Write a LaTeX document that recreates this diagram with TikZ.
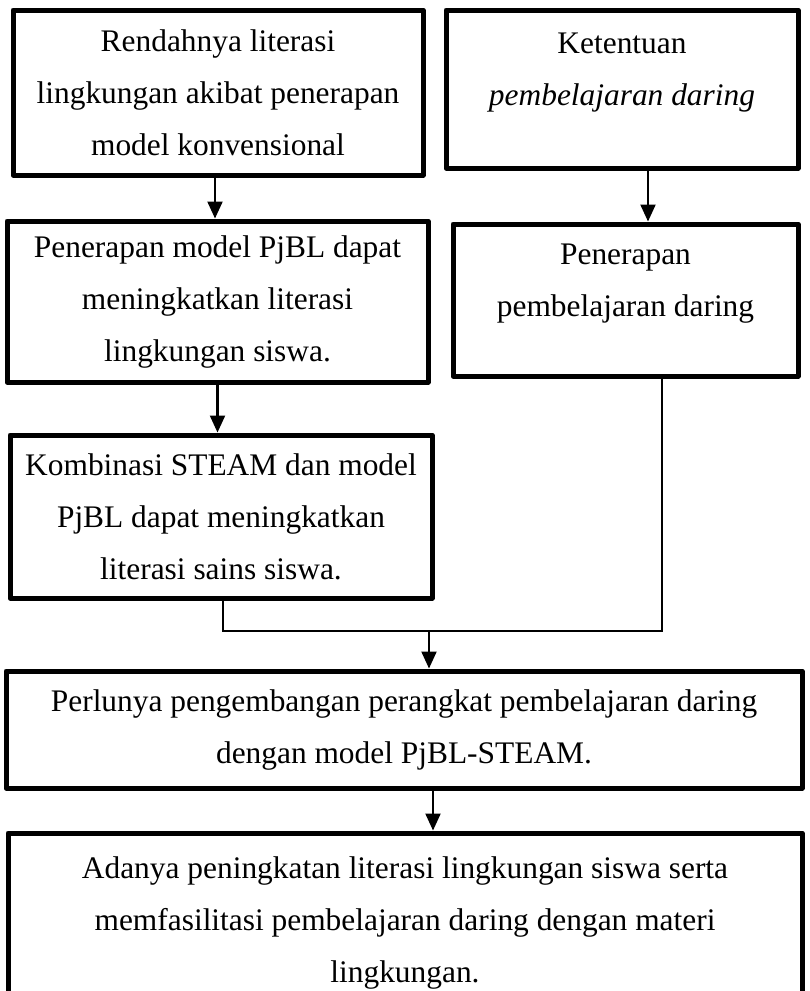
\documentclass[tikz,border=0pt]{standalone}
\usepackage{fontspec}
\setmainfont{Liberation Serif}
\usepackage{tikz}
\usetikzlibrary{arrows.meta}

\begin{document}
\begin{tikzpicture}[
  x=0.5pt, y=-0.5pt,
  box/.style={draw, line width=2.5pt, line join=round, inner sep=0pt,
              font=\fontsize{15.7}{26}\selectfont, align=center},
  arrow/.style={-{Triangle[width=7.5pt, length=8.5pt]}, line width=1.1pt},
  line/.style={line width=1.1pt}
]
\useasboundingbox (0,0) rectangle (809,991);
\clip (0,0) rectangle (809,991);

\node[box, minimum width=205pt, minimum height=82.5pt] (rendah) at (218,92.5)
  {Rendahnya literasi\\lingkungan akibat penerapan\\model konvensional};
\node[box, minimum width=176pt, minimum height=79pt] (ketentuan) at (622,89)
  {Ketentuan\\\textit{pembelajaran daring}\\[-6pt]\mbox{}};
\node[box, minimum width=210.5pt, minimum height=80.5pt] (pjbl) at (217.5,301.5)
  {Penerapan model PjBL dapat\\meningkatkan literasi\\lingkungan siswa.};
\node[box, minimum width=172.5pt, minimum height=76pt] (daring) at (625.5,300)
  {Penerapan\\pembelajaran daring\\[-6pt]\mbox{}};
\node[box, minimum width=211pt, minimum height=81.5pt] (steam) at (221,516.5)
  {Kombinasi STEAM dan model\\PjBL dapat meningkatkan\\literasi sains siswa.};
\node[box, minimum width=398pt, minimum height=58.5pt] (perlu) at (404,729.5)
  {Perlunya pengembangan perangkat pembelajaran daring\\dengan model PjBL-STEAM.};
\node[box, minimum width=397pt, minimum height=89.5pt] (adanya) at (405,922.5)
  {Adanya peningkatan literasi lingkungan siswa serta\\memfasilitasi pembelajaran daring dengan materi\\lingkungan.};

\coordinate (join) at (429,631);

\draw[arrow] ([xshift=-1.5pt]rendah.south) -- ([xshift=-1.5pt]rendah.south |- pjbl.north);
\draw[arrow] (pjbl.south) -- (pjbl.south |- steam.north);
\draw[arrow] ([xshift=13pt]ketentuan.south) -- ([xshift=13pt]ketentuan.south |- daring.north);
\draw[line] ([xshift=1pt]steam.south) |- ([xshift=18.25pt]daring.south |- join)
  -- ([xshift=18.25pt]daring.south);
\draw[arrow] (join) -- (join |- perlu.north);
\draw[arrow] ([xshift=14.5pt]perlu.south) -- ([xshift=14.5pt]perlu.south |- adanya.north);
\end{tikzpicture}
\end{document}
